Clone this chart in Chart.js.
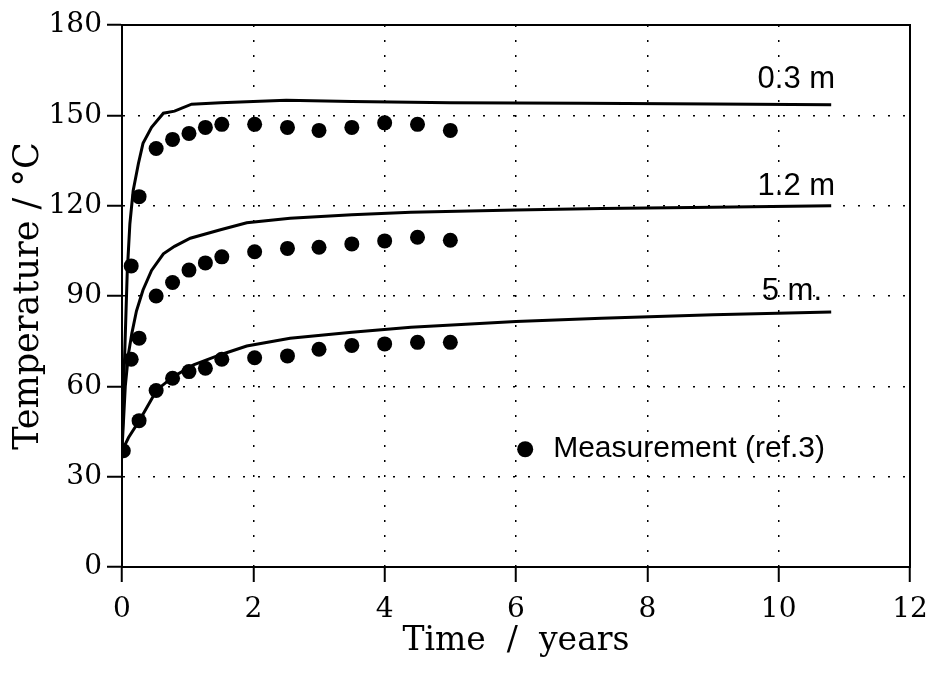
<!DOCTYPE html>
<html>
<head>
<meta charset="utf-8">
<script src="https://cdn.jsdelivr.net/npm/chart.js@4/dist/chart.umd.min.js"></script>
<style>
  html, body { margin: 0; padding: 0; background: #fff; }
</style>
</head>
<body>
<canvas id="chart" width="932" height="679"></canvas>
<script>
// measured points (ref.3)
const measTime = [0.02, 0.14, 0.26, 0.52, 0.77, 1.02, 1.27, 1.52, 2.02, 2.52, 3, 3.5, 4, 4.5, 5];
const meas03 = [null, 100, 123, 139, 142, 144, 146, 147, 147, 146, 145, 146, 147.5, 147, 145];
const meas12 = [null, 69, 76, 90, 94.5, 98.6, 101, 103, 104.7, 105.8, 106.2, 107.3, 108.3, 109.5, 108.5];
const meas5 = [38.6, null, 48.6, 58.6, 62.7, 64.9, 66, 69, 69.5, 70.1, 72.3, 73.6, 74.1, 74.6, 74.6];

// model curves
const time03 = [0, 0.04, 0.08, 0.12, 0.17, 0.25, 0.32, 0.45, 0.63, 0.8, 1.06, 1.5, 2.5, 3.5, 5, 7, 9, 10.8];
const temp03 = [39, 70, 98, 114, 125, 134, 140.7, 146, 150.7, 151.4, 153.7, 154.2, 155, 154.6, 154.2, 154, 153.8, 153.5];
const time12 = [0, 0.05, 0.1, 0.15, 0.22, 0.32, 0.45, 0.63, 0.8, 1.04, 1.5, 1.9, 2.56, 3.5, 4.4, 6, 7.3, 9, 10.8];
const temp12 = [39, 60, 71, 77.6, 85, 92, 98.5, 104, 106.5, 109.2, 112, 114.3, 115.8, 117, 117.8, 118.6, 119.1, 119.5, 120];
const time5 = [0, 0.1, 0.27, 0.53, 0.78, 1.09, 1.5, 1.9, 2.56, 3.5, 4.4, 6, 7.3, 9, 10.8];
const temp5 = [38.6, 43, 48.8, 58.8, 63.2, 67.1, 70.5, 73.4, 76, 78, 79.6, 81.5, 82.6, 83.8, 84.7];

const curveLabels = ["0.3 m", "1.2 m", "5 m."];
const legendLabel = "Measurement (ref.3)";

function pairs(xs, ys) {
    return xs.map((v, i) => ({ x: v, y: ys[i] }));
}

function lineSet(xs, ys) {
    return {
        type: "line",
        data: pairs(xs, ys),
        borderColor: "#000",
        borderWidth: 3,
        pointRadius: 0,
        tension: 0,
        fill: false,
    };
}

function dotSet(ys) {
    return {
        type: "scatter",
        data: pairs(measTime, ys),
        backgroundColor: "#000",
        borderColor: "#000",
        pointRadius: 7.5,
        pointBorderWidth: 0,
    };
}

const decorations = {
    id: "decorations",
    afterDatasetsDraw(chart) {
        const { ctx, chartArea: a, scales } = chart;
        const x = scales.x, y = scales.y;
        ctx.save();
        ctx.strokeStyle = "#000";
        ctx.lineWidth = 2;
        ctx.strokeRect(a.left, a.top, a.right - a.left, a.bottom - a.top);

        ctx.fillStyle = "#000";
        ctx.font = "31px 'Liberation Sans', Arial, sans-serif";
        ctx.textAlign = "right";
        ctx.textBaseline = "alphabetic";
        const lx = [10.86, 10.86, 10.66];
        const ly = [159, 123.5, 88.7];
        curveLabels.forEach((t, i) => {
            ctx.fillText(t, x.getPixelForValue(lx[i]), y.getPixelForValue(ly[i]));
        });

        // legend entry
        const px = x.getPixelForValue(6.14);
        const py = y.getPixelForValue(39.1);
        ctx.beginPath();
        ctx.arc(px, py, 8, 0, Math.PI * 2);
        ctx.fill();
        ctx.font = "30px 'Liberation Sans', Arial, sans-serif";
        ctx.textAlign = "left";
        ctx.textBaseline = "middle";
        ctx.fillText(legendLabel, px + 28, py - 1);
        ctx.restore();
    }
};

const tickFont = { family: "'DejaVu Serif', serif", size: 28 };

new Chart(document.getElementById("chart"), {
    data: {
        datasets: [
            lineSet(time03, temp03),
            lineSet(time12, temp12),
            lineSet(time5, temp5),
            dotSet(meas03),
            dotSet(meas12),
            dotSet(meas5),
        ]
    },
    options: {
        responsive: false,
        animation: false,
        layout: { padding: { left: 0, top: 25, right: 22, bottom: 0 } },
        plugins: {
            legend: { display: false },
            tooltip: { enabled: false },
        },
        scales: {
            x: {
                type: "linear",
                min: 0,
                max: 12,
                afterFit(scale) {
                    scale.height = 112;
                    scale.paddingLeft = 0;
                    scale.paddingRight = 0;
                },
                ticks: { stepSize: 2, color: "#000", font: tickFont, padding: 11, maxRotation: 0 },
                grid: {
                    color: "#000",
                    lineWidth: 1.5,
                    tickLength: 15,
                    tickColor: "#000",
                    tickWidth: 2,
                },
                border: { display: true, color: "#000", width: 2, dash: [2, 13] },
                title: {
                    display: true,
                    text: "Time  /  years",
                    color: "#000",
                    font: { family: "'DejaVu Serif', serif", size: 33 },
                    padding: { top: 0, bottom: 18 },
                },
            },
            y: {
                type: "linear",
                min: 0,
                max: 180,
                afterFit(scale) { scale.width = 122; },
                ticks: { stepSize: 30, color: "#000", font: tickFont, padding: 5 },
                grid: {
                    color: "#000",
                    lineWidth: 1.5,
                    tickLength: 15,
                    tickColor: "#000",
                    tickWidth: 2,
                },
                border: { display: true, color: "#000", width: 2, dash: [2, 13] },
                title: {
                    display: true,
                    text: "Temperature / °C",
                    color: "#000",
                    font: { family: "'DejaVu Serif', serif", size: 35 },
                    padding: { top: 8, bottom: 0 },
                },
            },
        },
    },
    plugins: [decorations],
});
</script>
</body>
</html>
